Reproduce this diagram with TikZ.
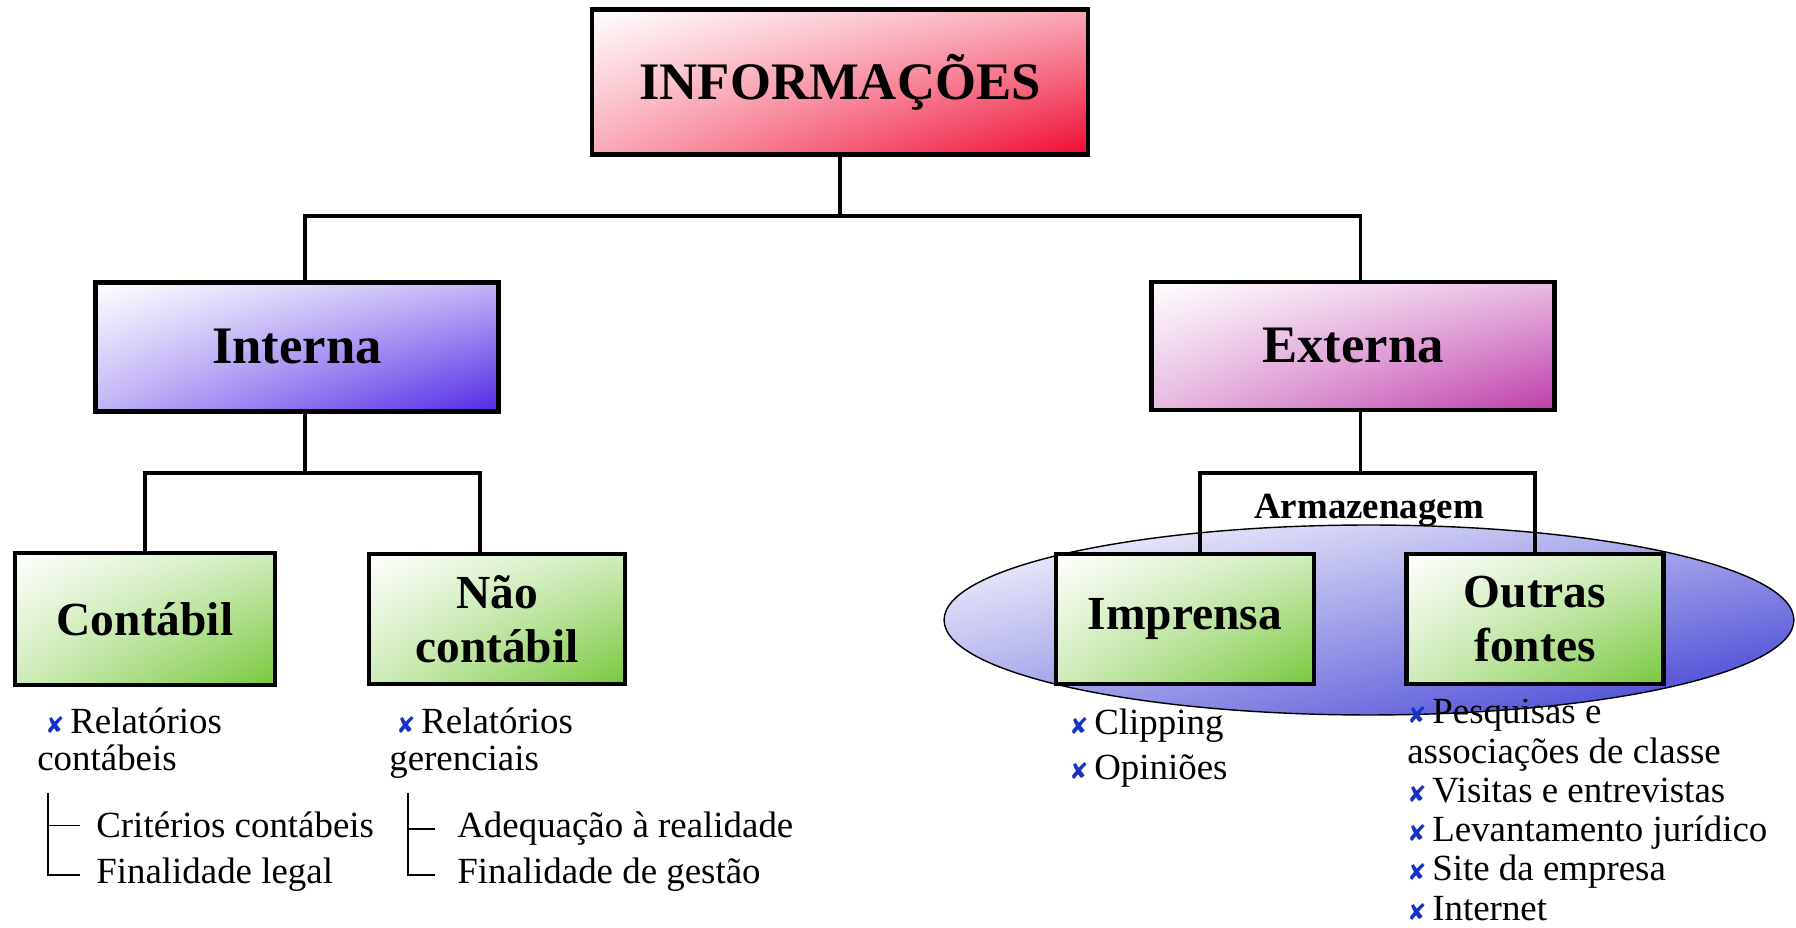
\documentclass[tikz,border=0pt]{standalone}
\usepackage{fontspec}
\setmainfont{Liberation Serif}
\newfontfamily\dejavu{DejaVu Sans}
\usetikzlibrary{shapes.geometric,shadings}

\definecolor{infored}{RGB}{240,10,50}
\definecolor{intblue}{RGB}{80,40,230}
\definecolor{extpink}{RGB}{190,60,170}
\definecolor{boxgreen}{RGB}{120,200,60}
\definecolor{ellblue}{RGB}{55,55,210}
\definecolor{bulblue}{RGB}{20,50,200}

\newcommand{\bul}{\makebox[0.5cm][l]{\textcolor{bulblue}{\dejavu\fontsize{13}{13}\selectfont ✘}}}

\tikzset{
  box/.style={draw, line width=2.4pt, shade, upper left=white, lower right=#1,
    upper right=#1!35, lower left=#1!35, align=center},
  bigtxt/.style={font=\bfseries\fontsize{30}{30}\selectfont},
  midtxt/.style={font=\bfseries\fontsize{27}{31}\selectfont},
  conn/.style={line width=1.8pt},
  brk/.style={line width=0.9pt},
  item/.style={anchor=base west, inner sep=0pt, font=\fontsize{21}{21}\selectfont},
}

\begin{document}
\begin{tikzpicture}[x=0.02cm, y=-0.02cm]
  \useasboundingbox (0,0) rectangle (1796,928);

  % Armazenagem
  \node[ellipse, draw, line width=0.8pt, shade, upper left=white, lower right=ellblue,
    upper right=ellblue!45, lower left=ellblue!45,
    minimum width=17cm, minimum height=3.8cm] (armaz) at (1369,620) {};

  % Caixas
  \node[box=infored, bigtxt, minimum width=9.92cm, minimum height=2.9cm] (info) at (840,82) {INFORMAÇÕES};
  \node[box=intblue, bigtxt, minimum width=8.06cm, minimum height=2.58cm] (interna) at (297,347) {Interna};
  \node[box=extpink, bigtxt, minimum width=8.06cm, minimum height=2.56cm] (externa) at (1353,346) {Externa};
  \node[box=boxgreen, midtxt, minimum width=5.2cm, minimum height=2.64cm] (contabil) at (145,619) {Contábil};
  \node[box=boxgreen, midtxt, minimum width=5.12cm, minimum height=2.6cm] (naocont) at (497,619) {Não\\contábil};
  \node[box=boxgreen, midtxt, minimum width=5.16cm, minimum height=2.6cm] (imprensa) at (1185,619) {Imprensa};
  \node[box=boxgreen, midtxt, minimum width=5.14cm, minimum height=2.6cm] (outras) at (1535,619) {Outras\\fontes};

  % Ligações
  \coordinate (bar1) at (0,216);
  \coordinate (bar2) at (0,473);
  \draw[conn] (info.south) -- (info.south |- bar1) -| ([xshift=0.16cm]interna.north);
  \draw[conn] (info.south |- bar1) -| ([xshift=0.15cm]externa.north);

  \coordinate (intdown) at ([xshift=0.16cm]interna.south);
  \draw[conn] (intdown) -- (intdown |- bar2) -| (contabil.north);
  \draw[conn] (intdown |- bar2) -| ([xshift=-0.34cm]naocont.north);

  \coordinate (extdown) at ([xshift=0.15cm]externa.south);
  \draw[conn] (extdown) -- (extdown |- bar2) -| ([xshift=0.3cm]imprensa.north);
  \draw[conn] (extdown |- bar2) -| (outras.north);

  \node[font=\bfseries\fontsize{21}{21}\selectfont, anchor=base, inner sep=0pt] (armlabel) at (1369,519) {Armazenagem};

  % Contábil
  \node[item] (lc1) at (45,734) {\bul Relatórios};
  \node[item] (lc2) at (37,771) {contábeis};
  \node[item] (crit) at (96,838) {Critérios contábeis};
  \node[item] (finleg) at (96,884) {Finalidade legal};
  \coordinate (bk1) at (48,793);
  \draw[brk] (bk1) |- ([xshift=-0.32cm]finleg.west);
  \draw[brk] (bk1 |- crit.west) -- ([xshift=-0.32cm]crit.west);

  % Não contábil
  \node[item] (ln1) at (396,734) {\bul Relatórios};
  \node[item] (ln2) at (389,771) {gerenciais};
  \node[item] (adeq) at (457,838) {Adequação à realidade};
  \node[item] (fingest) at (457,884) {Finalidade de gestão};
  \coordinate (bk2) at (408,793);
  \draw[brk] (bk2) |- ([xshift=-0.44cm]fingest.west);
  \draw[brk] (bk2 |- adeq.west) -- ([xshift=-0.44cm]adeq.west);

  % Imprensa
  \node[item] (li1) at (1069,735) {\bul Clipping};
  \node[item] (li2) at (1069,780) {\bul Opiniões};

  % Outras fontes
  \node[item] (lo1) at (1407,724) {\bul Pesquisas e};
  \node[item] (lo2) at (1407,764) {associações de classe};
  \foreach \t [count=\i] in {Visitas e entrevistas, Levantamento jurídico, Site da empresa, Internet} {
    \node[item] (lox\i) at (1407,{764+39*\i}) {\bul \t};
  }
\end{tikzpicture}
\end{document}
